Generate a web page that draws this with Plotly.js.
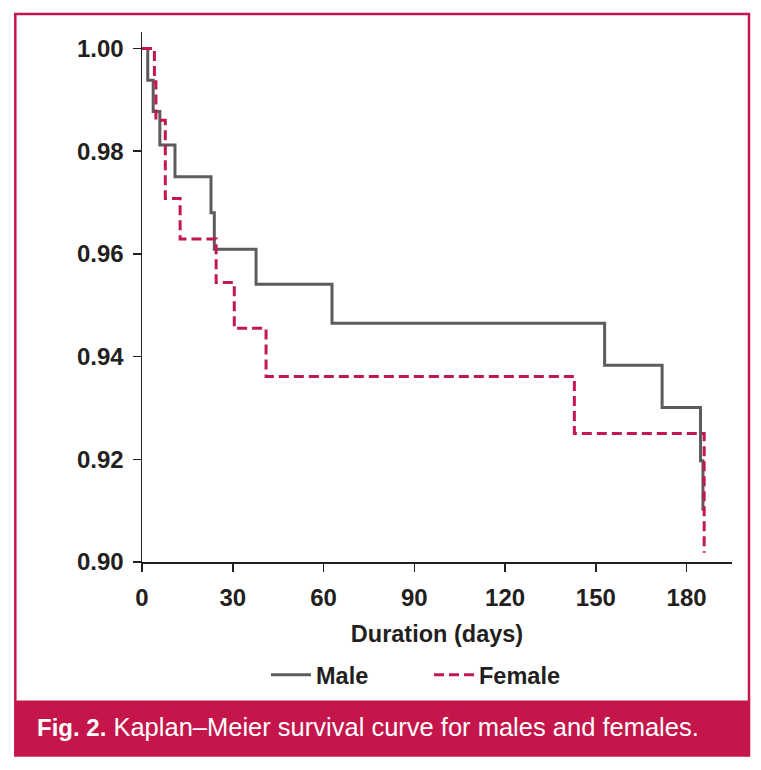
<!DOCTYPE html>
<html><head><meta charset="utf-8">
<script src="https://cdn.plot.ly/plotly-3.0.1.min.js"></script>
<style>html,body{margin:0;padding:0;background:#fff;} #chart{width:761px;height:770px;}</style>
</head><body><div id="chart"></div>
<script>
// Kaplan–Meier step data
const maleDays   = [0, 1.9, 3.7, 5.9, 10.9, 22.8, 23.9, 37.7, 62.8, 152.9, 171.9, 184.6, 185.4];
const maleSurv   = [1.000, 0.9938, 0.9877, 0.9812, 0.9750, 0.9680, 0.9609, 0.9541, 0.9465, 0.9383, 0.9301, 0.9197, 0.9100];
const femaleDays = [0, 4.1, 4.6, 7.7, 12.6, 24.5, 30.5, 41.0, 142.9, 185.8];
const femaleSurv = [1.000, 0.9935, 0.9860, 0.9708, 0.9629, 0.9544, 0.9455, 0.9361, 0.9250, 0.9018];
const xTicks = [0, 30, 60, 90, 120, 150, 180];
const yTicks = [0.90, 0.92, 0.94, 0.96, 0.98, 1.00];
const seriesNames = ['Male', 'Female'];
const captionBold = 'Fig. 2.';
const captionText = 'Kaplan–Meier survival curve for males and females.';

const W = 761, H = 770, L = 142, R = 29, T = 32, B = 208;
const pw = W - L - R, ph = H - T - B;
const px = v => (v - L) / pw;
const py = v => (H - B - v) / ph;

const CRIMSON = '#c5164b';
const FONT = 'Liberation Sans, Arial, Helvetica, sans-serif';
const INK = '#231f20';

const traces = [
  { x: maleDays, y: maleSurv, name: seriesNames[0], type: 'scatter', mode: 'lines',
    line: { shape: 'hv', color: '#5c5c5c', width: 3 } },
  { x: femaleDays, y: femaleSurv, name: seriesNames[1], type: 'scatter', mode: 'lines',
    line: { shape: 'hv', color: '#c3174f', width: 3, dash: '10px,5px' } }
];

const axisCommon = {
  showgrid: false, zeroline: false, showline: true, linecolor: INK, linewidth: 1.5,
  ticks: 'outside', ticklen: 8, tickwidth: 1.5, tickcolor: INK,
  tickfont: { family: FONT, size: 24, weight: 'bold', color: INK },
  automargin: false
};

const layout = {
  width: W, height: H,
  margin: { l: L, r: R, t: T, b: B },
  paper_bgcolor: '#ffffff', plot_bgcolor: '#ffffff',
  showlegend: true,
  xaxis: Object.assign({}, axisCommon, {
    range: [0, 195], tickvals: xTicks, ticktext: xTicks.map(String),
    ticklabelstandoff: 6,
    title: { text: 'Duration (days)', standoff: 15,
             font: { family: FONT, size: 23.5, weight: 'bold', color: INK } }
  }),
  yaxis: Object.assign({}, axisCommon, {
    range: [0.9, 1.0032], tickvals: yTicks, ticktext: yTicks.map(v => v.toFixed(2)),
    ticklabelstandoff: 4
  }),
  legend: {
    orientation: 'h', x: px(266), xanchor: 'left', y: py(675), yanchor: 'middle',
    font: { family: FONT, size: 23.5, weight: 'bold', color: INK },
    bgcolor: 'rgba(0,0,0,0)', itemwidth: 40, entrywidth: 108, entrywidthmode: 'pixels'
  },
  shapes: [
    { type: 'rect', xref: 'paper', yref: 'paper', x0: px(15.3), x1: px(749), y0: py(14), y1: py(755.5),
      line: { color: CRIMSON, width: 2.5 }, fillcolor: 'rgba(0,0,0,0)', layer: 'below' },
    { type: 'rect', xref: 'paper', yref: 'paper', x0: px(15.3), x1: px(749), y0: py(700.5), y1: py(755.5),
      line: { width: 0 }, fillcolor: CRIMSON, layer: 'below' }
  ],
  annotations: [
    { xref: 'paper', yref: 'paper', x: px(35), y: py(727), xanchor: 'left', yanchor: 'middle',
      showarrow: false,
      text: '<b><span style="font-size:24px">' + captionBold + '</span></b> ' + captionText,
      font: { family: FONT, size: 25.5, color: '#ffffff' } }
  ]
};

Plotly.newPlot('chart', traces, layout, { staticPlot: true, displayModeBar: false });
</script>
</body></html>
